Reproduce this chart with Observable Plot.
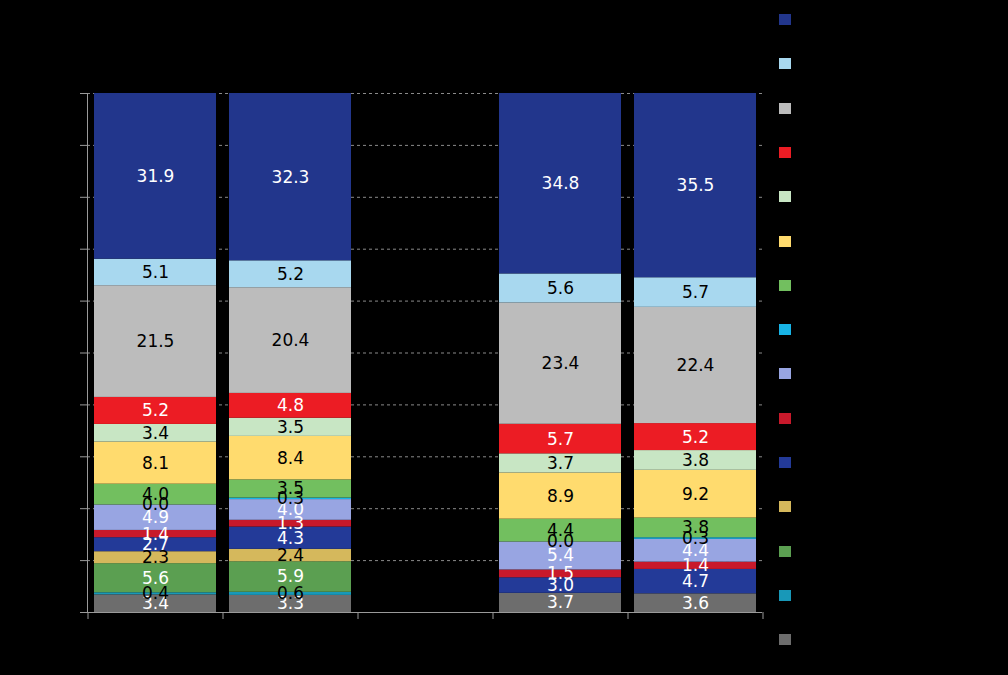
<!DOCTYPE html>
<html>
<head>
<meta charset="utf-8">
<script src="https://cdn.jsdelivr.net/npm/d3@7"></script>
<script src="https://cdn.jsdelivr.net/npm/@observablehq/plot@0.6"></script>
<style>
  html, body { margin: 0; padding: 0; background: #000; }
  #wrap { position: relative; width: 1008px; height: 675px; background: #000; overflow: hidden; }
  #legend { position: absolute; left: 779px; top: 14px; font-family: "DejaVu Sans", sans-serif; font-size: 13px; color: #000; }
  .item { position: absolute; left: 0; height: 12px; white-space: nowrap; }
  .sw { position: absolute; left: 0; top: 0; width: 12px; height: 11px; }
  .lab { position: absolute; left: 22px; top: -2px; color: #000; }
</style>
</head>
<body>
<div id="wrap"><div id="legend"></div></div>
<script>
// Categories (x axis) — labels are drawn in black on black in the reference
const categories = ["Category 1", "Category 2", "Category 3", "Category 4", "Category 5"];

// Series in stacking order, bottom to top
const series = ["Series 15", "Series 14", "Series 13", "Series 12", "Series 11", "Series 10", "Series 9", "Series 8",
                "Series 7", "Series 6", "Series 5", "Series 4", "Series 3", "Series 2", "Series 1"];
const colors = ["#6d6d6d", "#1898b8", "#5b9f51", "#d5b85c", "#233a98", "#c8192b", "#98a5e2", "#18b4e6",
                "#72bf5f", "#ffdb6e", "#c8e6c4", "#ec1c24", "#bcbcbc", "#a8d8ef", "#22368c"];
const labelColors = ["#fff", "#000", "#fff", "#000", "#fff", "#fff", "#fff", "#000",
                     "#000", "#000", "#000", "#fff", "#000", "#000", "#fff"];

// Values (percent shares), one array per category, same order as series
const values1 = [3.4, 0.4, 5.6, 2.3, 2.7, 1.4, 4.9, 0.0, 4.0, 8.1, 3.4, 5.2, 21.5, 5.1, 31.9];
const values2 = [3.3, 0.6, 5.9, 2.4, 4.3, 1.3, 4.0, 0.3, 3.5, 8.4, 3.5, 4.8, 20.4, 5.2, 32.3];
const values3 = [null, null, null, null, null, null, null, null, null, null, null, null, null, null, null];
const values4 = [3.7, null, null, null, 3.0, 1.5, 5.4, 0.0, 4.4, 8.9, 3.7, 5.7, 23.4, 5.6, 34.8];
const values5 = [3.6, null, null, null, 4.7, 1.4, 4.4, 0.3, 3.8, 9.2, 3.8, 5.2, 22.4, 5.7, 35.5];
const yTicks = [0, 0.1, 0.2, 0.3, 0.4, 0.5, 0.6, 0.7, 0.8, 0.9, 1.0];

const allValues = [values1, values2, values3, values4, values5];
const rows = [];
allValues.forEach((vals, ci) => {
  vals.forEach((v, si) => {
    if (v !== null) rows.push({cat: categories[ci], series: series[si], value: v, tc: labelColors[si]});
  });
});

const W = 1008, H = 675, mL = 87, mR = 246, mT = 93, mB = 63;
const step = (W - mL - mR) / categories.length;
const axisGrey = "#9a9a9a";

const chart = Plot.plot({
  width: W,
  height: H,
  marginLeft: mL,
  marginRight: mR,
  marginTop: mT,
  marginBottom: mB,
  style: {background: "#000", fontFamily: "DejaVu Sans, sans-serif", fontSize: "13px", color: "#000"},
  x: {domain: categories, paddingInner: 0.1, paddingOuter: 0.05, label: null},
  y: {domain: [0, 1], label: null},
  color: {domain: series, range: colors},
  marks: [
    Plot.gridY(yTicks, {stroke: "#8a8a8a", strokeOpacity: 1, strokeDasharray: "3,3"}),
    Plot.barY(rows, Plot.stackY({x: "cat", y: "value", z: "series", fill: "series", order: series, offset: "normalize"})),
    Plot.text(rows, Plot.stackY({x: "cat", y: "value", z: "series", order: series, offset: "normalize",
      text: d => d.value.toFixed(1), fill: "tc", fontSize: 17, fontFamily: "DejaVu Sans, sans-serif"})),
    Plot.axisY(yTicks, {tickSize: 7, stroke: axisGrey, fill: "#000", tickFormat: d3.format(".0%")}),
    Plot.frame({anchor: "left", stroke: axisGrey}),
    Plot.ruleY([0], {stroke: axisGrey}),
    Plot.axisX({tickSize: 7, dx: -step / 2, stroke: axisGrey, fill: "#000"}),
    Plot.axisX([categories[categories.length - 1]], {tickSize: 7, dx: step / 2, stroke: axisGrey, tickFormat: () => ""})
  ]
});
const wrap = document.getElementById("wrap");
wrap.insertBefore(chart, wrap.firstChild);

const legend = document.getElementById("legend");
const legendOrder = series.slice().reverse();
legendOrder.forEach((s, i) => {
  const item = document.createElement("div");
  item.className = "item";
  item.style.top = (i * 44.3) + "px";
  const sw = document.createElement("div");
  sw.className = "sw";
  sw.style.background = colors[series.indexOf(s)];
  const lab = document.createElement("span");
  lab.className = "lab";
  lab.textContent = s;
  item.appendChild(sw);
  item.appendChild(lab);
  legend.appendChild(item);
});
</script>
</body>
</html>
